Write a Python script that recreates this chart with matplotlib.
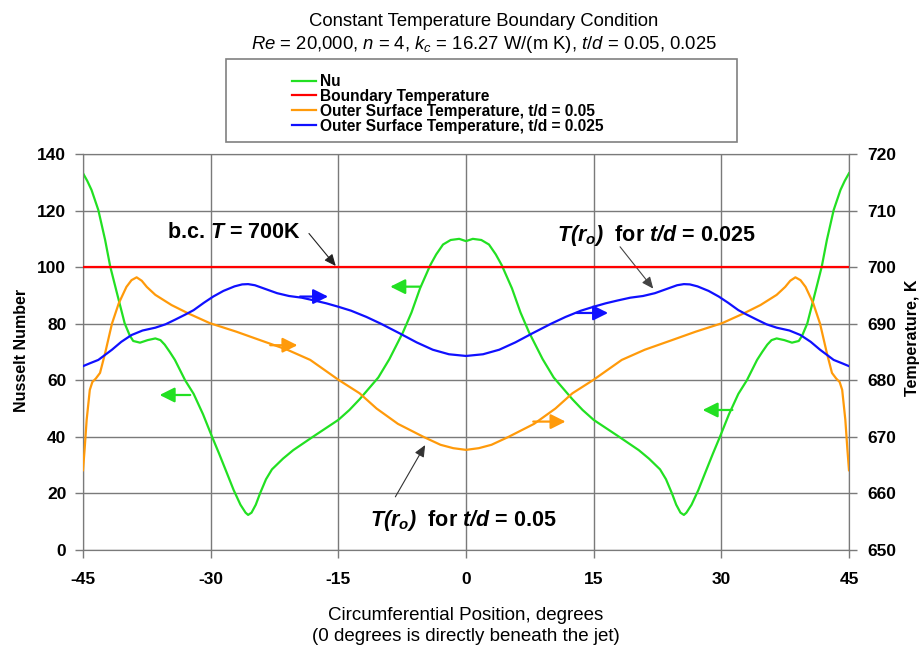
import matplotlib
matplotlib.use("Agg")
import matplotlib.pyplot as plt
from matplotlib.patches import Rectangle
from matplotlib.lines import Line2D

plt.rcParams['font.family'] = ['Liberation Sans', 'DejaVu Sans']
plt.rcParams['axes.unicode_minus'] = False
plt.rcParams['mathtext.fontset'] = 'custom'
plt.rcParams['mathtext.rm'] = 'Liberation Sans'
plt.rcParams['mathtext.it'] = 'Liberation Sans:italic'
plt.rcParams['mathtext.bf'] = 'Liberation Sans:bold'
try:
    plt.rcParams['mathtext.bfit'] = 'Liberation Sans:bold:italic'
    BFIT = True
except KeyError:
    BFIT = False

# ---------------- data ----------------
nu_x = [-45, -44.5, -44.0, -43.2, -42.4, -41.8, -41.0, -40.1, -39.5, -39.1, -38.3, -37.4,
        -36.5, -35.9, -35.4, -34.8, -34.2, -33.0, -32.0, -30.9, -29.9, -29.0, -28.2, -27.3,
        -26.5, -25.9, -25.6, -25.2, -24.7, -24.2, -23.5, -22.8, -21.5, -20.3, -18.0, -16.5,
        -15.0, -13.7, -12.5, -11.3, -10.3, -9.0, -7.4, -6.4, -5.4, -4.2, -3.5, -2.7, -1.8,
        -0.8, 0.0,
        0.8, 1.8, 2.7, 3.5, 4.2, 5.4, 6.4, 7.4, 9.0, 10.3, 11.3, 12.5, 13.7, 15.0, 16.5,
        18.0, 20.3, 21.5, 22.8, 23.5, 24.2, 24.7, 25.2, 25.6, 25.9, 26.5, 27.3, 28.2, 29.0,
        29.9, 30.9, 32.0, 33.0, 34.2, 34.8, 35.4, 35.9, 36.5, 37.4, 38.3, 39.1, 39.5, 40.1,
        41.0, 41.8, 42.4, 43.2, 44.0, 44.5, 45]
nu_vals = [133.2, 130.5, 127.3, 120.2, 109.6, 100.2, 90.7, 80.1, 75.8, 73.9, 73.3, 74.2,
           74.8, 74.2, 72.6, 70.0, 67.2, 60.0, 55.2, 48.0, 40.5, 34.0, 28.0, 21.2,
           16.0, 13.2, 12.4, 13.2, 16.0, 20.0, 25.0, 28.5, 32.3, 35.3, 40.0, 43.0,
           46.0, 49.5, 53.3, 57.5, 61.0, 67.5, 77.0, 84.0, 92.5, 100.7, 104.5, 108.0, 109.6,
           110.0, 109.2,
           110.0, 109.6, 108.0, 104.5, 100.7, 92.5, 84.0, 77.0, 67.5, 61.0, 57.5, 53.3, 49.5,
           46.0, 43.0, 40.0, 35.3, 32.3, 28.5, 25.0, 20.0, 16.0, 13.2, 12.4, 13.2, 16.0, 21.2,
           28.0, 34.0, 40.5, 48.0, 55.2, 60.0, 67.2, 70.0, 72.6, 74.2, 74.8, 74.2, 73.3, 73.9,
           75.8, 80.1, 90.7, 100.2, 109.6, 120.2, 127.3, 130.5, 133.2]

bc_x = [-45, 45]
bc_T = [700, 700]

t05_x = [-45, -44.8, -44.57, -44.2, -43.9, -43.5, -43.0, -42.4, -41.6, -40.8, -39.9, -39.3,
         -38.7, -38.1, -37.5, -36.5, -34.6, -32.6, -30.1, -27.0, -24.2, -21.0, -18.3, -16.6,
         -15.0, -12.5, -10.5, -8.0, -5.0, -3.0, -1.5, 0.0,
         1.5, 3.0, 5.0, 8.0, 10.5, 12.5, 15.0, 16.6, 18.3, 21.0, 24.2, 27.0, 30.1, 32.6,
         34.6, 36.5, 37.5, 38.1, 38.7, 39.3, 39.9, 40.8, 41.6, 42.4, 43.0, 43.5, 43.9, 44.2,
         44.57, 44.8, 45]
t05_vals = [664.1, 668.0, 673.0, 678.3, 679.7, 680.3, 681.3, 684.8, 690.0, 693.6, 696.5, 697.7,
            698.2, 697.6, 696.5, 695.1, 693.3, 691.8, 690.1, 688.6, 687.1, 685.4, 683.6, 681.8,
            680.1, 677.7, 675.0, 672.3, 670.0, 668.6, 668.0, 667.7,
            668.0, 668.6, 670.0, 672.3, 675.0, 677.7, 680.1, 681.8, 683.6, 685.4, 687.1, 688.6,
            690.1, 691.8, 693.3, 695.1, 696.5, 697.6, 698.2, 697.7, 696.5, 693.6, 690.0, 684.8,
            681.3, 680.3, 679.7, 678.3, 673.0, 668.0, 664.1]

t025_x = [-45, -44.2, -43.2, -42.4, -41.6, -40.5, -39.3, -38.0, -36.5, -35.3, -34.2, -33.0,
          -32.0, -30.8, -29.7, -28.5, -27.2, -26.3, -25.6, -24.8, -23.5, -22.2, -20.8, -19.3,
          -17.8, -16.4, -15.0, -13.5, -11.7, -10.0, -7.8, -5.8, -3.9, -2.0, 0.0,
          2.0, 3.9, 5.8, 7.8, 10.0, 11.7, 13.5, 15.0, 16.4, 17.8, 19.3, 20.8, 22.2, 23.5,
          24.8, 25.6, 26.3, 27.2, 28.5, 29.7, 30.8, 32.0, 33.0, 34.2, 35.3, 36.5, 38.0, 39.3,
          40.5, 41.6, 42.4, 43.2, 44.2, 45]
t025_vals = [682.5, 683.0, 683.6, 684.5, 685.4, 686.8, 688.0, 688.8, 689.3, 689.9, 690.7, 691.6,
             692.4, 693.7, 694.8, 695.8, 696.6, 696.95, 697.0, 696.8, 696.1, 695.4, 694.9, 694.6,
             694.1, 693.6, 693.0, 692.3, 691.2, 690.0, 688.3, 686.7, 685.4, 684.6, 684.3,
             684.6, 685.4, 686.7, 688.3, 690.0, 691.2, 692.3, 693.0, 693.6, 694.1, 694.6, 694.9,
             695.4, 696.1, 696.8, 697.0, 696.95, 696.6, 695.8, 694.8, 693.7, 692.4, 691.6, 690.7,
             689.9, 689.3, 688.8, 688.0, 686.8, 685.4, 684.5, 683.6, 683.0, 682.5]

x_ticks = [-45, -30, -15, 0, 15, 30, 45]
nu_ticks = [0, 20, 40, 60, 80, 100, 120, 140]
t_ticks = [650, 660, 670, 680, 690, 700, 710, 720]

legend_labels = ['Nu', 'Boundary Temperature',
                 'Outer Surface Temperature, t/d = 0.05',
                 'Outer Surface Temperature, t/d = 0.025']

GREEN = '#22e022'
RED = '#ff0000'
ORANGE = '#ff9a0a'
BLUE = '#1010ff'
GRID = '#7a7a7a'

W, H = 923, 646
def fx(p):
    return p / W
def fy(p):
    return 1 - p / H

fig = plt.figure(figsize=(W / 100, H / 100), dpi=100)
ax = fig.add_axes([fx(83), fy(550), 766 / W, 396 / H])
ax2 = ax.twinx()

ax.plot(nu_x, nu_vals, color=GREEN, lw=1.6, zorder=3)
ax2.plot(bc_x, bc_T, color=RED, lw=1.6, zorder=3)
ax2.plot(t05_x, t05_vals, color=ORANGE, lw=1.6, zorder=3)
ax2.plot(t025_x, t025_vals, color=BLUE, lw=1.6, zorder=3)

ax.set_xlim(-45, 45)
ax.set_ylim(0, 140)
ax2.set_ylim(650, 720)
ax.set_xticks(x_ticks)
ax.set_yticks(nu_ticks)
ax2.set_yticks(t_ticks)
ax.grid(True, color=GRID, lw=1.0)
ax.set_axisbelow(True)

for a in (ax, ax2):
    for s in a.spines.values():
        s.set_color(GRID)
ax.tick_params(axis='both', direction='out', length=6, width=1, color=GRID, labelsize=12.5)
ax.tick_params(axis='x', pad=10)
ax.tick_params(axis='y', pad=6)
ax2.tick_params(axis='y', direction='out', length=6, width=1, color=GRID, labelsize=12.5, pad=7)
for lab in ax.get_xticklabels() + ax.get_yticklabels() + ax2.get_yticklabels():
    lab.set_fontweight('bold')

# axis labels
fig.text(fx(22), fy(350), 'Nusselt Number', rotation=90, ha='center', va='center',
         fontsize=11.5, fontweight='bold')
fig.text(fx(913), fy(338), 'Temperature, K', rotation=90, ha='center', va='center',
         fontsize=11.5, fontweight='bold')
fig.text(fx(466), fy(620), 'Circumferential Position, degrees', ha='center', va='baseline',
         fontsize=13.5)
fig.text(fx(466), fy(641), '(0 degrees is directly beneath the jet)', ha='center',
         va='baseline', fontsize=13.5)

# titles
fig.text(fx(484), fy(26), 'Constant Temperature Boundary Condition', ha='center',
         va='baseline', fontsize=13.3)
fig.text(fx(484), fy(49), r'$Re$ = 20,000, $n$ = 4, $k_c$ = 16.27 W/(m K), $t/d$ = 0.05, 0.025',
         ha='center', va='baseline', fontsize=13.3)

# manual legend
fig.add_artist(Rectangle((fx(226), fy(142)), 511 / W, 83 / H, transform=fig.transFigure,
                         facecolor='white', edgecolor='#808080', lw=1.2))
legend_colors = [GREEN, RED, ORANGE, BLUE]
row_y = [80.5, 95.3, 110.1, 124.9]
for lab, col, yy in zip(legend_labels, legend_colors, row_y):
    fig.add_artist(Line2D([fx(292), fx(316)], [fy(yy), fy(yy)], transform=fig.transFigure,
                          color=col, lw=1.6))
    fig.text(fx(320), fy(yy), lab, ha='left', va='center_baseline', fontsize=11.2,
             fontweight='bold')

# direction arrows on the curves
def curve_arrow(a, tail, head, col):
    a.annotate('', xy=head, xytext=tail,
               arrowprops=dict(arrowstyle='-|>,head_length=0.6,head_width=0.3', color=col,
                               lw=1.6, mutation_scale=15, shrinkA=0, shrinkB=0), zorder=4)

curve_arrow(ax, (-32.4, 54.8), (-36.0, 54.8), GREEN)
curve_arrow(ax, (-5.4, 93.1), (-8.9, 93.1), GREEN)
curve_arrow(ax, (31.3, 49.5), (27.8, 49.5), GREEN)
curve_arrow(ax2, (-23.0, 686.2), (-19.8, 686.2), ORANGE)
curve_arrow(ax2, (7.9, 672.7), (11.7, 672.7), ORANGE)
curve_arrow(ax2, (-19.5, 694.8), (-16.2, 694.8), BLUE)
curve_arrow(ax2, (13.0, 691.9), (16.7, 691.9), BLUE)

# text annotations
if BFIT:
    bc_txt = r'b.c. $\mathbfit{T}$ = 700K'
    t025_txt = r'$\mathbfit{T(r}_{\mathbfit{o}}\mathbfit{)}$  for $\mathbfit{t/d}$ = 0.025'
    t05_txt = r'$\mathbfit{T(r}_{\mathbfit{o}}\mathbfit{)}$  for $\mathbfit{t/d}$ = 0.05'
else:
    bc_txt = r'b.c. $T$ = 700K'
    t025_txt = r'$T(r_o)$  for $t/d$ = 0.025'
    t05_txt = r'$T(r_o)$  for $t/d$ = 0.05'

ax.text(-27.3, 112.4, bc_txt, ha='center', va='center', fontsize=15.5, fontweight='bold',
        zorder=5)
ax.text(22.3, 111.3, t025_txt, ha='center', va='center', fontsize=15.5, fontweight='bold',
        zorder=5)
ax.text(-0.3, 10.6, t05_txt, ha='center', va='center', fontsize=15.5, fontweight='bold',
        zorder=5)

def note_arrow(tail, head, col):
    ax.annotate('', xy=head, xytext=tail,
                arrowprops=dict(arrowstyle='-|>,head_length=0.5,head_width=0.22', color=col,
                                lw=0.8, mutation_scale=14, shrinkA=0, shrinkB=0), zorder=5)

note_arrow((-18.45, 111.9), (-15.3, 100.4), '#222222')
note_arrow((18.1, 107.2), (22.0, 92.4), '#444444')
note_arrow((-8.3, 18.8), (-4.8, 37.1), '#333333')

fig.savefig('out.png', dpi=100)
